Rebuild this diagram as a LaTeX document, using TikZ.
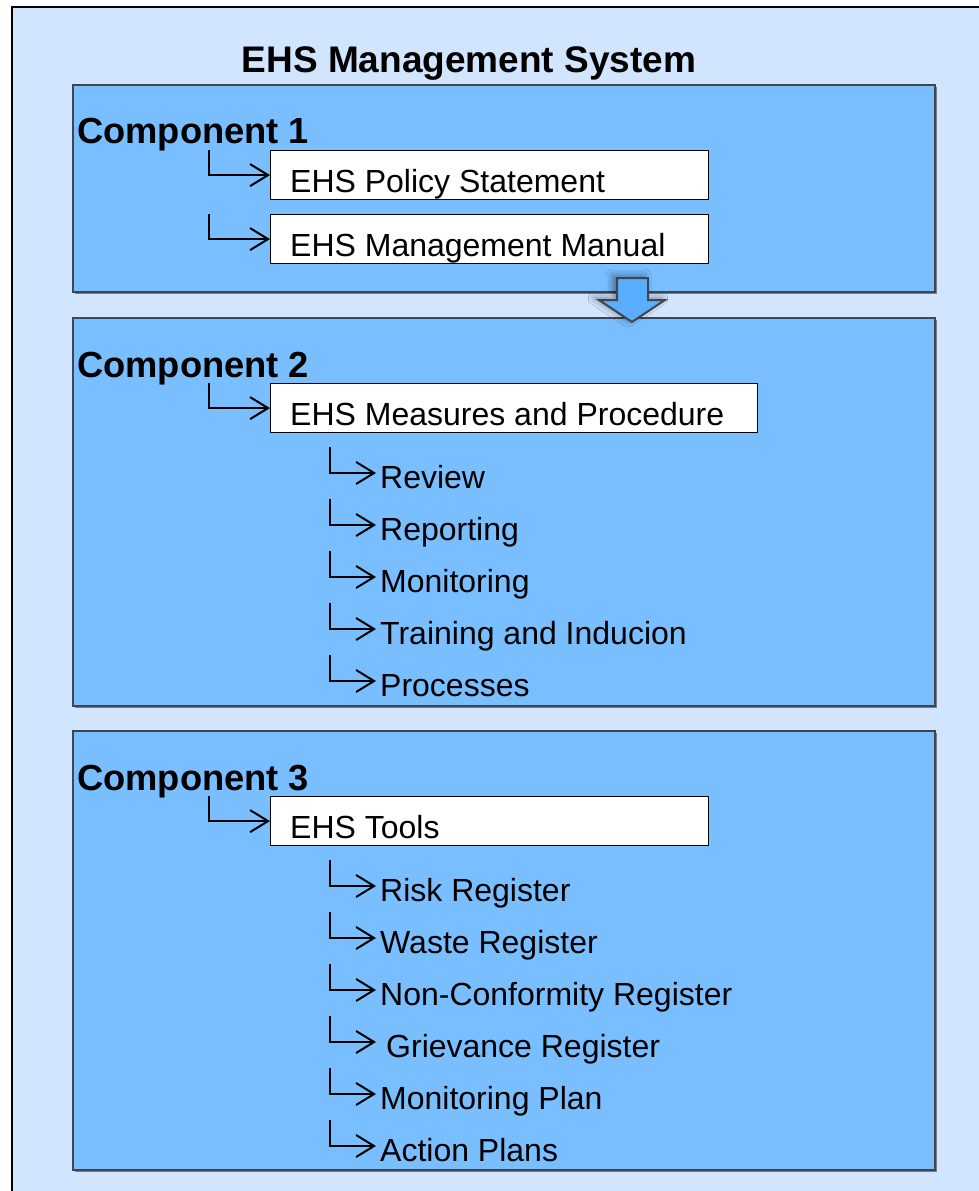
\documentclass[tikz,border=0pt]{standalone}
\usepackage{fontspec}
\setmainfont{Liberation Sans}
\usetikzlibrary{arrows.meta,shadows.blur}
\definecolor{pageblue}{HTML}{D1E5FE}
\definecolor{compblue}{HTML}{79BEFF}
\definecolor{arrowblue}{HTML}{5AAEFF}
\definecolor{edgegray}{HTML}{3F4650}
\tikzset{
  compbox/.style={fill=compblue,draw=edgegray,line width=1.2pt},
  compshadow/.style={fill=edgegray!70,draw=none},
  comptitle/.style={anchor=base west,inner sep=0pt,font=\fontsize{36.3}{40}\selectfont\bfseries},
  itembox/.style={fill=white,draw=black,line width=1.2pt,anchor=north west,inner sep=0pt},
  itemtext/.style={anchor=base west,inner sep=0pt,font=\fontsize{32}{36}\selectfont},
  elbow/.style={line width=2pt,-{Straight Barb[length=18pt,width=22pt,line width=2pt]}},
}
\begin{document}
\begin{tikzpicture}[x=1pt,y=-1pt]
\useasboundingbox (0,0) rectangle (979,1191);
\clip (0,0) rectangle (979,1191);
\fill[white] (0,0) rectangle (979,1191);
% outer frame of the page
\draw[fill=pageblue,line width=2pt] (12,7) rectangle (1000,1220);

\node[anchor=base,inner sep=0pt,font=\fontsize{37}{40}\selectfont\bfseries] (title) at (469,72) {EHS Management System};

% component frames with a thin drop shadow
\foreach \t/\b in {85/292,318/706,731/1170}{
  \fill[compshadow] (75,\t+2) rectangle (937,\b+2);
  \draw[compbox] (73,\t) rectangle (935,\b);
}

% block arrow from component 1 to component 2
\draw[fill=arrowblue,draw=edgegray,line width=2pt,line join=miter,
      blur shadow={shadow xshift=-4pt,shadow yshift=2pt,shadow blur radius=7pt,shadow opacity=45}]
  (617,278) -- (648,278) -- (648,300) -- (665,300) -- (632,322) -- (599,300) -- (617,300) -- cycle;

% ---------- Component 1 ----------
\node[comptitle] (c1) at (77,143) {Component 1};
\node[itembox,minimum width=438pt,minimum height=49pt] (b11) at (270,150) {};
\node[itemtext] (t11) at (290,192) {EHS Policy Statement};
\node[itembox,minimum width=438pt,minimum height=49pt] (b12) at (270,214) {};
\node[itemtext] (t12) at (290,256) {EHS Management Manual};
\coordinate (s11) at (209,150);
\coordinate (s12) at (209,214);
\draw[elbow] (s11) |- (b11.west);
\draw[elbow] (s12) |- (b12.west);

% ---------- Component 2 ----------
\node[comptitle] (c2) at (77,377) {Component 2};
\node[itembox,minimum width=487pt,minimum height=49pt] (b21) at (270,383) {};
\node[itemtext] (t21) at (290,425) {EHS Measures and Procedure};
\coordinate (s21) at (209,383);
\draw[elbow] (s21) |- (b21.west);

\foreach \n/\txt [count=\i] in {r1/Review,r2/Reporting,r3/Monitoring,r4/Training and Inducion,r5/Processes}{
  \pgfmathsetmacro{\bl}{488+52*(\i-1)}
  \node[itemtext] (\n) at (380,\bl) {\txt};
  \coordinate (\n s) at (330,\bl-41);
  \coordinate (\n e) at (376,\bl-15);
  \draw[elbow] (\n s) |- (\n e);
}

% ---------- Component 3 ----------
\node[comptitle] (c3) at (77,790) {Component 3};
\node[itembox,minimum width=438pt,minimum height=49pt] (b31) at (270,796) {};
\node[itemtext] (t31) at (290,838) {EHS Tools};
\coordinate (s31) at (209,796);
\draw[elbow] (s31) |- (b31.west);

\foreach \n/\txt/\x [count=\i] in {g1/Risk Register/380,g2/Waste Register/380,g3/Non-Conformity Register/380,g4/Grievance Register/386,g5/Monitoring Plan/380,g6/Action Plans/380}{
  \pgfmathsetmacro{\bl}{901+52*(\i-1)}
  \node[itemtext] (\n) at (\x,\bl) {\txt};
  \coordinate (\n s) at (330,\bl-41);
  \coordinate (\n e) at (376,\bl-15);
  \draw[elbow] (\n s) |- (\n e);
}
\end{tikzpicture}
\end{document}
